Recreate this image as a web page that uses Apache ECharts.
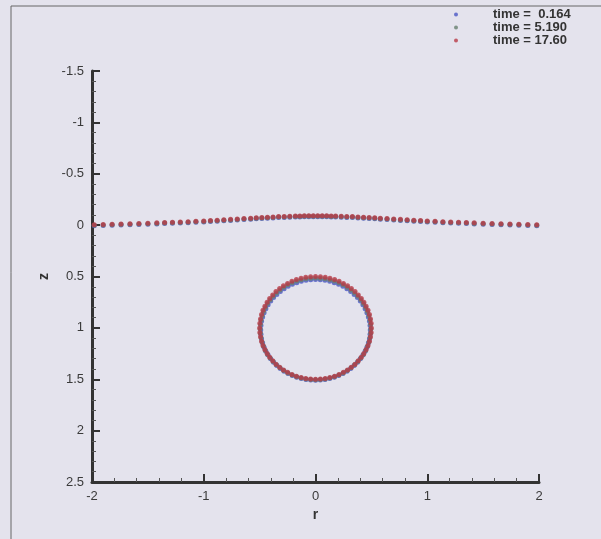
<!DOCTYPE html>
<html>
<head>
<meta charset="utf-8">
<script src="https://cdn.jsdelivr.net/npm/echarts@6/dist/echarts.min.js"></script>
<style>html,body{margin:0;padding:0;background:#e4e3ed;}#c{width:601px;height:539px;}</style>
</head>
<body>
<div id="c"></div>
<script>
// ---- data ----
const seriesNames = ['time =  0.164', 'time = 5.190', 'time = 17.60'];
const xTicks = [-2, -1, 0, 1, 2];
const yTicks = [-1.5, -1, -0.5, 0, 0.5, 1, 1.5, 2, 2.5];

// free surface (r positions shared by the three times)
const surfaceR = [-1.98,-1.90,-1.82,-1.74,-1.66,-1.58,-1.50,-1.42,-1.35,-1.28,-1.21,-1.14,-1.07,-1.00,-0.94,-0.88,-0.82,-0.76,-0.70,-0.64,-0.58,-0.53,-0.48,-0.43,-0.38,-0.33,-0.28,-0.23,-0.18,-0.14,-0.10,-0.06,-0.02,
  0.02,0.06,0.10,0.14,0.18,0.23,0.28,0.33,0.38,0.43,0.48,0.53,0.58,0.64,0.70,0.76,0.82,0.88,0.94,1.00,1.07,1.14,1.21,1.28,1.35,1.42,1.50,1.58,1.66,1.74,1.82,1.90,1.98];
const surfaceZ_t0164 = [0.006,0.004,0.002,-0.001,-0.003,-0.006,-0.009,-0.012,-0.015,-0.018,-0.021,-0.024,-0.028,-0.031,-0.035,-0.038,-0.042,-0.046,-0.050,-0.054,-0.058,-0.061,-0.064,-0.067,-0.070,-0.073,-0.075,-0.077,-0.079,-0.080,-0.081,-0.082,-0.082,
  -0.082,-0.082,-0.081,-0.080,-0.079,-0.077,-0.075,-0.073,-0.070,-0.067,-0.064,-0.061,-0.058,-0.054,-0.050,-0.046,-0.042,-0.038,-0.035,-0.031,-0.028,-0.024,-0.021,-0.018,-0.015,-0.012,-0.009,-0.006,-0.003,-0.001,0.002,0.004,0.006];
const surfaceZ_t5190 = [0.001,-0.001,-0.003,-0.006,-0.008,-0.011,-0.014,-0.017,-0.020,-0.023,-0.026,-0.029,-0.033,-0.036,-0.040,-0.043,-0.047,-0.051,-0.055,-0.059,-0.063,-0.066,-0.069,-0.072,-0.075,-0.078,-0.080,-0.082,-0.084,-0.085,-0.086,-0.087,-0.087,
  -0.087,-0.087,-0.086,-0.085,-0.084,-0.082,-0.080,-0.078,-0.075,-0.072,-0.069,-0.066,-0.063,-0.059,-0.055,-0.051,-0.047,-0.043,-0.040,-0.036,-0.033,-0.029,-0.026,-0.023,-0.020,-0.017,-0.014,-0.011,-0.008,-0.006,-0.003,-0.001,0.001];
const surfaceZ_t1760 = [-0.004,-0.006,-0.008,-0.011,-0.013,-0.016,-0.019,-0.022,-0.025,-0.028,-0.031,-0.034,-0.038,-0.041,-0.045,-0.048,-0.052,-0.056,-0.060,-0.064,-0.068,-0.071,-0.074,-0.077,-0.080,-0.083,-0.085,-0.087,-0.089,-0.090,-0.091,-0.092,-0.092,
  -0.092,-0.092,-0.091,-0.090,-0.089,-0.087,-0.085,-0.083,-0.080,-0.077,-0.074,-0.071,-0.068,-0.064,-0.060,-0.056,-0.052,-0.048,-0.045,-0.041,-0.038,-0.034,-0.031,-0.028,-0.025,-0.022,-0.019,-0.016,-0.013,-0.011,-0.008,-0.006,-0.004];

// bubble outline, time = 0.164
const bubbleR_t0164 = [0.49,0.488,0.483,0.473,0.460,0.444,0.424,0.401,0.375,0.346,0.315,0.281,0.245,0.207,0.168,0.127,0.085,0.043,0,
  -0.043,-0.085,-0.127,-0.168,-0.207,-0.245,-0.281,-0.315,-0.346,-0.375,-0.401,-0.424,-0.444,-0.460,-0.473,-0.483,-0.488,-0.49,
  -0.488,-0.483,-0.473,-0.460,-0.444,-0.424,-0.401,-0.375,-0.346,-0.315,-0.281,-0.245,-0.207,-0.168,-0.127,-0.085,-0.043,0,
  0.043,0.085,0.127,0.168,0.207,0.245,0.281,0.315,0.346,0.375,0.401,0.424,0.444,0.460,0.473,0.483,0.488];
const bubbleZ_t0164 = [1.020,1.063,1.105,1.147,1.188,1.227,1.265,1.301,1.335,1.366,1.395,1.421,1.444,1.464,1.480,1.493,1.503,1.508,1.510,
  1.508,1.503,1.493,1.480,1.464,1.444,1.421,1.395,1.366,1.335,1.301,1.265,1.227,1.188,1.147,1.105,1.063,1.020,
  0.977,0.935,0.893,0.852,0.813,0.775,0.739,0.705,0.674,0.645,0.619,0.596,0.576,0.560,0.547,0.537,0.532,0.530,
  0.532,0.537,0.547,0.560,0.576,0.596,0.619,0.645,0.674,0.705,0.739,0.775,0.813,0.852,0.893,0.935,0.977];

// bubble outline, time = 5.190
const bubbleR_t5190 = [0.495,0.493,0.487,0.478,0.465,0.449,0.429,0.406,0.379,0.350,0.318,0.284,0.248,0.209,0.169,0.128,0.086,0.043,0,
  -0.043,-0.086,-0.128,-0.169,-0.209,-0.248,-0.284,-0.318,-0.350,-0.379,-0.406,-0.429,-0.449,-0.465,-0.478,-0.487,-0.493,-0.495,
  -0.493,-0.487,-0.478,-0.465,-0.449,-0.429,-0.406,-0.379,-0.350,-0.318,-0.284,-0.248,-0.209,-0.169,-0.128,-0.086,-0.043,0,
  0.043,0.086,0.128,0.169,0.209,0.248,0.284,0.318,0.350,0.379,0.406,0.429,0.449,0.465,0.478,0.487,0.493];
const bubbleZ_t5190 = [1.010,1.053,1.096,1.138,1.179,1.219,1.258,1.294,1.328,1.360,1.389,1.416,1.439,1.459,1.475,1.488,1.497,1.503,1.505,
  1.503,1.497,1.488,1.475,1.459,1.439,1.416,1.389,1.360,1.328,1.294,1.258,1.219,1.179,1.138,1.096,1.053,1.010,
  0.967,0.924,0.882,0.841,0.801,0.762,0.726,0.692,0.660,0.631,0.604,0.581,0.561,0.545,0.532,0.523,0.517,0.515,
  0.517,0.523,0.532,0.545,0.561,0.581,0.604,0.631,0.660,0.692,0.726,0.762,0.801,0.841,0.882,0.924,0.967];

// bubble outline, time = 17.60
const bubbleR_t1760 = [0.5,0.498,0.492,0.483,0.470,0.453,0.433,0.410,0.383,0.354,0.321,0.287,0.25,0.211,0.171,0.129,0.087,0.044,0,
  -0.044,-0.087,-0.129,-0.171,-0.211,-0.25,-0.287,-0.321,-0.354,-0.383,-0.410,-0.433,-0.453,-0.470,-0.483,-0.492,-0.498,-0.5,
  -0.498,-0.492,-0.483,-0.470,-0.453,-0.433,-0.410,-0.383,-0.354,-0.321,-0.287,-0.25,-0.211,-0.171,-0.129,-0.087,-0.044,0,
  0.044,0.087,0.129,0.171,0.211,0.25,0.287,0.321,0.354,0.383,0.410,0.433,0.453,0.470,0.483,0.492,0.498];
const bubbleZ_t1760 = [1,1.044,1.087,1.129,1.171,1.211,1.25,1.287,1.321,1.354,1.383,1.410,1.433,1.453,1.470,1.483,1.492,1.498,1.5,
  1.498,1.492,1.483,1.470,1.453,1.433,1.410,1.383,1.354,1.321,1.287,1.25,1.211,1.171,1.129,1.087,1.044,1,
  0.956,0.913,0.871,0.829,0.789,0.75,0.713,0.679,0.646,0.617,0.590,0.567,0.547,0.530,0.517,0.508,0.502,0.5,
  0.502,0.508,0.517,0.530,0.547,0.567,0.590,0.617,0.646,0.679,0.713,0.75,0.789,0.829,0.871,0.913,0.956];

const colors = ['#4a56c4', '#66806e', '#b83a46'];

function pairs(rs, zs) { return rs.map((r, i) => [r, zs[i]]); }
const datasets = [
  pairs(surfaceR, surfaceZ_t0164).concat(pairs(bubbleR_t0164, bubbleZ_t0164)),
  pairs(surfaceR, surfaceZ_t5190).concat(pairs(bubbleR_t5190, bubbleZ_t5190)),
  pairs(surfaceR, surfaceZ_t1760).concat(pairs(bubbleR_t1760, bubbleZ_t1760))
];

const chart = echarts.init(document.getElementById('c'), null, {renderer: 'canvas'});
const axisColor = '#333';
const labelStyle = {color: '#3a3a3a', fontFamily: 'Liberation Sans, Arial, sans-serif', fontSize: 13};
chart.setOption({
  backgroundColor: '#e4e3ed',
  animation: false,
  grid: {left: 92, right: 62, top: 71, bottom: 57},
  legend: {
    data: seriesNames,
    orient: 'vertical',
    left: 454, top: 8, padding: 0,
    itemWidth: 4, itemHeight: 4, itemGap: 0,
    icon: 'circle',
    textStyle: {color: '#333', fontFamily: 'Liberation Sans, Arial, sans-serif', fontSize: 13, fontWeight: 'bold', lineHeight: 13, padding: [0, 0, 0, 30]}
  },
  xAxis: {
    type: 'value', min: xTicks[0], max: xTicks[xTicks.length - 1], interval: 1,
    name: 'r', nameLocation: 'middle', nameGap: 24,
    nameTextStyle: {color: '#333', fontFamily: 'Liberation Sans, Arial, sans-serif', fontSize: 14, fontWeight: 'bold'},
    axisLine: {show: true, onZero: false, lineStyle: {color: axisColor, width: 3}},
    axisTick: {show: true, inside: true, length: 8, lineStyle: {color: axisColor, width: 2}},
    minorTick: {show: true, splitNumber: 5, length: 4, lineStyle: {color: '#555', width: 1}},
    axisLabel: Object.assign({margin: 8, formatter: v => String(v)}, labelStyle),
    splitLine: {show: false}
  },
  yAxis: {
    type: 'value', inverse: true, min: yTicks[0], max: yTicks[yTicks.length - 1], interval: 0.5,
    name: 'z', nameLocation: 'middle', nameGap: 38,
    nameTextStyle: {color: '#333', fontFamily: 'Liberation Sans, Arial, sans-serif', fontSize: 14, fontWeight: 'bold'},
    axisLine: {show: true, onZero: false, lineStyle: {color: axisColor, width: 3}},
    axisTick: {show: true, inside: true, length: 8, lineStyle: {color: axisColor, width: 2}},
    minorTick: {show: true, splitNumber: 5, length: 4, lineStyle: {color: '#555', width: 1}},
    axisLabel: Object.assign({margin: 8, formatter: v => String(v)}, labelStyle),
    splitLine: {show: false}
  },
  graphic: [
    {type: 'line', shape: {x1: 11, y1: 6, x2: 601, y2: 6}, style: {stroke: '#666', lineWidth: 1}, silent: true},
    {type: 'line', shape: {x1: 11, y1: 6, x2: 11, y2: 539}, style: {stroke: '#666', lineWidth: 1}, silent: true}
  ],
  series: seriesNames.map((n, i) => ({
    name: n, type: 'scatter', symbol: 'circle', symbolSize: 5,
    itemStyle: {color: colors[i]},
    data: datasets[i]
  }))
});
</script>
</body>
</html>
